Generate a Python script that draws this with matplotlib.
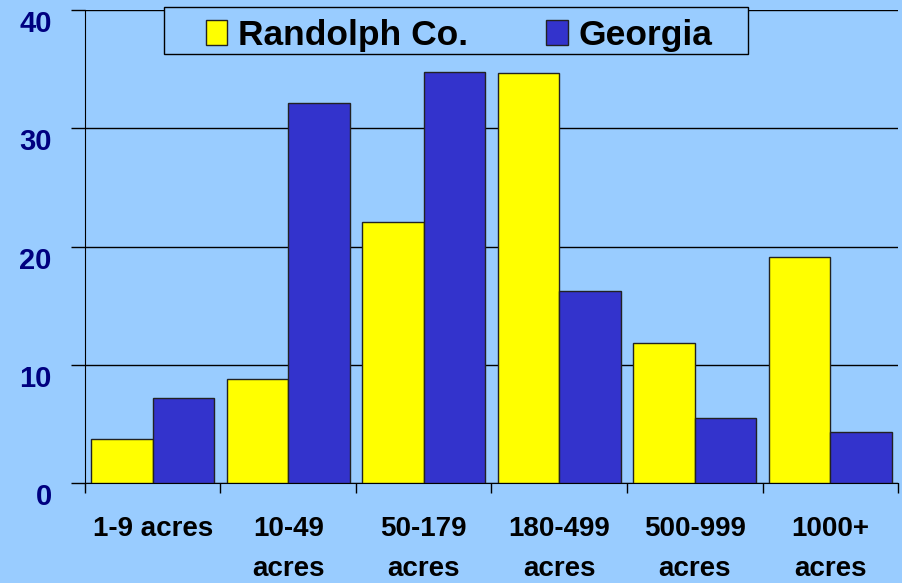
import matplotlib.pyplot as plt
from matplotlib.patches import Rectangle
import numpy as np

plt.rcParams['font.family'] = ['Liberation Sans', 'DejaVu Sans']

categories = ['1-9 acres', '10-49\nacres', '50-179\nacres', '180-499\nacres', '500-999\nacres', '1000+\nacres']
randolph = [3.7, 8.8, 22.1, 34.7, 11.8, 19.1]
georgia = [7.2, 32.1, 34.8, 16.2, 5.5, 4.3]
yticks = [0, 10, 20, 30, 40]

bg = '#99CCFF'
fig = plt.figure(figsize=(9.02, 5.83), dpi=100, facecolor=bg)
ax = fig.add_axes([0.0942, 0.1715, 0.9014, 0.8113])
ax.set_facecolor(bg)

x = np.arange(len(categories)) + 0.5
w = 0.455
ax.bar(x - w / 2, randolph, w, color='#FFFF00', edgecolor='#222222', linewidth=1, label='Randolph Co.', zorder=3)
ax.bar(x + w / 2, georgia, w, color='#3333CC', edgecolor='#222222', linewidth=1, label='Georgia', zorder=3)

ax.set_xlim(0, 6)
ax.set_ylim(0, 40)
ax.set_yticks(yticks)
ax.set_yticklabels([str(v) for v in yticks], fontsize=21, fontweight='bold', color='#000080', va='top')
ax.yaxis.grid(True, color='black', linewidth=1, zorder=0)
ax.tick_params(axis='y', length=10, width=1, pad=14)

ax.set_xticks(np.arange(7))
ax.set_xticklabels([])
ax.set_xticks(x, minor=True)
ax.set_xticklabels(categories, minor=True, fontsize=20, fontweight='bold', linespacing=1.7)
ax.tick_params(axis='x', which='major', length=7, width=1, direction='out')
ax.tick_params(axis='x', which='minor', length=0, pad=24)

for s in ['top', 'right']:
    ax.spines[s].set_visible(False)

# legend box drawn separately (wide side padding), covering the top grid line
ax.add_patch(Rectangle((164 / 902, 1 - 54 / 583), 584 / 902, 47 / 583, transform=fig.transFigure,
                       facecolor=bg, edgecolor='black', linewidth=1, zorder=4, clip_on=False))

leg = ax.legend(loc='upper center', bbox_to_anchor=(0.4605, 0.993), ncol=2,
                prop={'weight': 'bold', 'size': 25.5}, frameon=False, columnspacing=2.2,
                handlelength=0.6, handleheight=0.7, handletextpad=0.32, borderpad=0.15,
                borderaxespad=0)
leg.set_zorder(6)
for h in leg.legend_handles:
    h.set_edgecolor('#222222')

plt.savefig('out.png', dpi=100, facecolor=bg)
